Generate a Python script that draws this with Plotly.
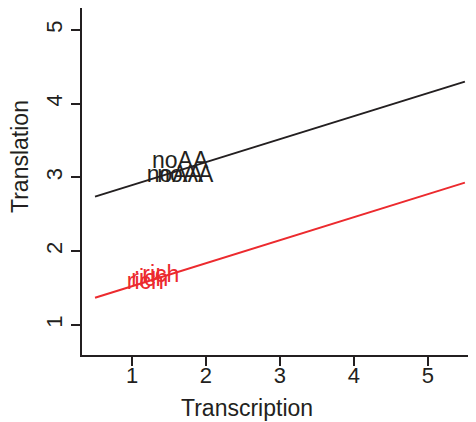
import plotly.graph_objects as go

# Fitted lines (endpoints along Transcription)
line_x = [0.5, 5.5]
noAA_line_y = [2.74, 4.30]
rich_line_y = [1.37, 2.93]

# Point labels
noAA_x = [1.65, 1.58, 1.72]
noAA_y = [3.20, 3.02, 3.02]
rich_x = [1.39, 1.18, 1.24]
rich_y = [1.66, 1.56, 1.60]

x_ticks = [1, 2, 3, 4, 5]
y_ticks = [1, 2, 3, 4, 5]

BLACK = "#231f20"
RED = "#ec2a2e"
FONT = "Liberation Sans, Arial, sans-serif"

fig = go.Figure()
fig.add_trace(go.Scatter(x=line_x, y=noAA_line_y, mode="lines",
                         line=dict(color=BLACK, width=2), showlegend=False))
fig.add_trace(go.Scatter(x=line_x, y=rich_line_y, mode="lines",
                         line=dict(color=RED, width=2), showlegend=False))
fig.add_trace(go.Scatter(x=noAA_x, y=noAA_y, mode="text", text=["noAA"] * len(noAA_x),
                         textfont=dict(color=BLACK, size=23, family=FONT), showlegend=False))
fig.add_trace(go.Scatter(x=rich_x, y=rich_y, mode="text", text=["rich"] * len(rich_x),
                         textfont=dict(color=RED, size=23, family=FONT), showlegend=False))

PW, PH = 394, 347
fig.update_layout(
    width=468, height=414,
    margin=dict(l=74, r=0, t=0, b=67),
    paper_bgcolor="white", plot_bgcolor="white",
    font=dict(family=FONT, size=22, color=BLACK),
    xaxis=dict(range=[0.324, 5.65], tickvals=x_ticks, showgrid=False, zeroline=False,
               automargin=False,
               showline=True, mirror=True, linecolor=BLACK, linewidth=2,
               ticks="outside", ticklen=9, tickwidth=1.5, tickcolor=BLACK,
               ticklabelstandoff=-9,
               tickfont=dict(size=22, color=BLACK)),
    yaxis=dict(range=[0.593, 5.298], tickvals=y_ticks, showgrid=False, zeroline=False,
               automargin=False,
               showline=True, mirror=False, linecolor=BLACK, linewidth=2,
               ticks="outside", ticklen=9, tickwidth=1.5, tickcolor=BLACK,
               tickangle=-90, tickfont=dict(size=22, color=BLACK)),
    annotations=[
        dict(text="Transcription", xref="paper", yref="paper",
             x=(239 - 74) / PW, y=(PH - 400) / PH, xanchor="center", yanchor="middle",
             showarrow=False, font=dict(size=23, color=BLACK)),
        dict(text="Translation", xref="paper", yref="paper", textangle=-90,
             x=(12 - 74) / PW, y=(PH - 149) / PH, xanchor="center", yanchor="middle",
             showarrow=False, font=dict(size=23, color=BLACK)),
    ],
)

fig.write_html("out.html")
